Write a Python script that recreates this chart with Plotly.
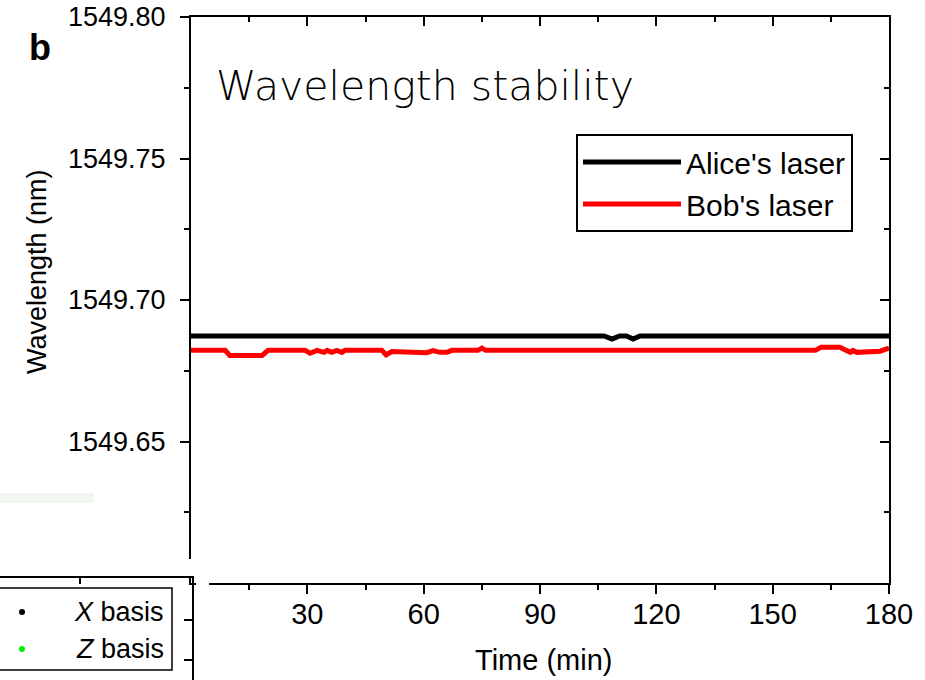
import plotly.graph_objects as go

# ---------------- data ----------------
alice_time = [0, 106.5, 108.6, 110.5, 112.3, 114.0, 115.8, 180]
alice_wl = [1549.6873, 1549.6873, 1549.6862, 1549.6873, 1549.6873, 1549.6862, 1549.6873, 1549.6873]

bob_time = [0, 8.8, 10.0, 18.3, 19.9, 29.4, 30.7, 32.5, 34.3, 35.1, 36.3, 37.6, 38.9, 39.7,
            49.2, 50.3, 51.8, 60.0, 60.8, 62.4, 64.2, 66.0, 67.3, 74.0, 75.0, 76.0,
            161.0, 162.5, 167.3, 170.0, 170.7, 171.7, 177.7, 180]
bob_wl = [1549.6822, 1549.6822, 1549.6804, 1549.6804, 1549.6822, 1549.6822, 1549.6812, 1549.6822,
          1549.6815, 1549.6822, 1549.6815, 1549.6822, 1549.6815, 1549.6822,
          1549.6822, 1549.6806, 1549.6818, 1549.6818, 1549.6814, 1549.6821, 1549.6815, 1549.6815,
          1549.6822, 1549.6822, 1549.6830, 1549.6822,
          1549.6822, 1549.6833, 1549.6833, 1549.6815, 1549.6822, 1549.6815, 1549.6819, 1549.6830]

x_ticks = [30, 60, 90, 120, 150, 180]
x_minor = [15, 45, 75, 105, 135, 165]
y_ticks = [1549.65, 1549.70, 1549.75, 1549.80]
y_ticktext = ["1549.65", "1549.70", "1549.75", "1549.80"]
y_minor = [1549.625, 1549.675, 1549.725, 1549.775]
x_range = [0, 180]
y_range = [1549.60, 1549.80]

# ---------------- geometry helpers ----------------
W, H = 925, 680
L, R, T, B = 191, 889, 17, 583


def px(x):
    return (x - L) / (R - L)


def py(y):
    return (B - y) / (B - T)


FONT = "Liberation Sans, Arial, sans-serif"

fig = go.Figure()
fig.add_trace(go.Scatter(x=alice_time, y=alice_wl, mode="lines", name="Alice's laser",
                         line=dict(color="black", width=5)))
fig.add_trace(go.Scatter(x=bob_time, y=bob_wl, mode="lines", name="Bob's laser",
                         line=dict(color="#ff0000", width=5)))
# helper trace so the mirrored (top/right) axes are drawn
fig.add_trace(go.Scatter(x=[], y=[], xaxis="x2", yaxis="y2", showlegend=False, hoverinfo="skip"))

axis_common = dict(showgrid=False, zeroline=False, showline=True, linecolor="black", linewidth=2,
                   tickcolor="black", tickwidth=2, ticklen=9, automargin=False)

fig.update_layout(
    width=W, height=H,
    margin=dict(l=L, r=W - R, t=T, b=H - B, autoexpand=False),
    paper_bgcolor="white", plot_bgcolor="white",
    font=dict(family=FONT, color="black"),
    showlegend=True,
    legend=dict(x=px(853), y=py(134), xanchor="right", yanchor="top",
                bgcolor="white", bordercolor="black", borderwidth=2,
                font=dict(size=30, family=FONT, color="black"),
                tracegroupgap=0, itemwidth=98),
    xaxis=dict(range=x_range, tickvals=x_ticks, ticks="outside",
               tickfont=dict(size=29, family=FONT), ticklabelstandoff=-5,
               minor=dict(tickvals=x_minor, ticks="outside", ticklen=5, tickwidth=2, tickcolor="black"),
               **axis_common),
    xaxis2=dict(range=x_range, overlaying="x", side="top", anchor="y", tickvals=x_ticks,
                ticks="inside", showticklabels=False,
                minor=dict(tickvals=x_minor, ticks="inside", ticklen=5, tickwidth=2, tickcolor="black"),
                **axis_common),
    yaxis=dict(range=y_range, tickvals=y_ticks, ticktext=y_ticktext, ticks="outside",
               tickfont=dict(size=27, family=FONT), ticklabelstandoff=9,
               minor=dict(tickvals=y_minor, ticks="outside", ticklen=5, tickwidth=2, tickcolor="black"),
               **axis_common),
    yaxis2=dict(range=y_range, overlaying="y", side="right", anchor="x", tickvals=y_ticks,
                ticks="inside", showticklabels=False,
                minor=dict(tickvals=y_minor, ticks="inside", ticklen=5, tickwidth=2, tickcolor="black"),
                **axis_common),
)

annotations = [
    dict(text="Time (min)", x=px(543), y=py(660), xref="paper", yref="paper",
         showarrow=False, font=dict(size=29, family=FONT), xanchor="center", yanchor="middle"),
    dict(text="Wavelength (nm)", x=px(37), y=py(272), xref="paper", yref="paper", textangle=-90,
         showarrow=False, font=dict(size=27, family=FONT), xanchor="center", yanchor="middle"),
    dict(text="Wavelength stability", x=px(214), y=py(86), xref="paper", yref="paper",
         showarrow=False, font=dict(size=41, family="DejaVu Sans, sans-serif", weight=300),
         xanchor="left", yanchor="middle"),
    dict(text="<b>b</b>", x=px(40), y=py(48), xref="paper", yref="paper",
         showarrow=False, font=dict(size=36, family=FONT), xanchor="center", yanchor="middle"),
    # remnants of the neighbouring panel
    dict(text="<i>X</i> basis", x=px(166), y=py(612), xref="paper", yref="paper",
         showarrow=False, font=dict(size=27, family=FONT), xanchor="right", yanchor="middle"),
    dict(text="<i>Z</i> basis", x=px(166), y=py(649), xref="paper", yref="paper",
         showarrow=False, font=dict(size=27, family=FONT), xanchor="right", yanchor="middle"),
]
fig.update_layout(annotations=annotations)

shapes = [
    # gap cutting the left and bottom axes (cropped figure)
    dict(type="rect", xref="paper", yref="paper", x0=px(180), x1=px(200), y0=py(576), y1=py(559),
         fillcolor="white", line=dict(width=0), layer="above"),
    dict(type="rect", xref="paper", yref="paper", x0=px(196), x1=px(209), y0=py(600), y1=py(576),
         fillcolor="white", line=dict(width=0), layer="above"),
    # neighbouring panel: axes pieces
    dict(type="line", xref="paper", yref="paper", x0=px(0), x1=px(194), y0=py(577), y1=py(577),
         line=dict(color="black", width=2)),
    dict(type="line", xref="paper", yref="paper", x0=px(193), x1=px(193), y0=py(577), y1=py(682),
         line=dict(color="black", width=2)),
    dict(type="line", xref="paper", yref="paper", x0=px(80), x1=px(80), y0=py(577), y1=py(584),
         line=dict(color="black", width=2)),
    dict(type="line", xref="paper", yref="paper", x0=px(184), x1=px(193), y0=py(620), y1=py(620),
         line=dict(color="black", width=2)),
    dict(type="line", xref="paper", yref="paper", x0=px(184), x1=px(193), y0=py(660), y1=py(660),
         line=dict(color="black", width=2)),
    # neighbouring panel legend box
    dict(type="rect", xref="paper", yref="paper", x0=px(-3), x1=px(172), y0=py(670), y1=py(588),
         line=dict(color="black", width=1.5), fillcolor="rgba(0,0,0,0)"),
    dict(type="circle", xref="paper", yref="paper", x0=px(19), x1=px(25), y0=py(615), y1=py(609),
         fillcolor="black", line=dict(width=0)),
    dict(type="circle", xref="paper", yref="paper", x0=px(19), x1=px(25), y0=py(652), y1=py(646),
         fillcolor="#00ee00", line=dict(width=0)),
    # faint green strip
    dict(type="rect", xref="paper", yref="paper", x0=px(0), x1=px(94), y0=py(503), y1=py(493),
         fillcolor="#f1f7ef", line=dict(width=0)),
]
fig.update_layout(shapes=shapes)

fig.write_html("out.html", config={"displayModeBar": False},
               post_script="document.body.style.margin='0';document.body.style.overflow='hidden';")
